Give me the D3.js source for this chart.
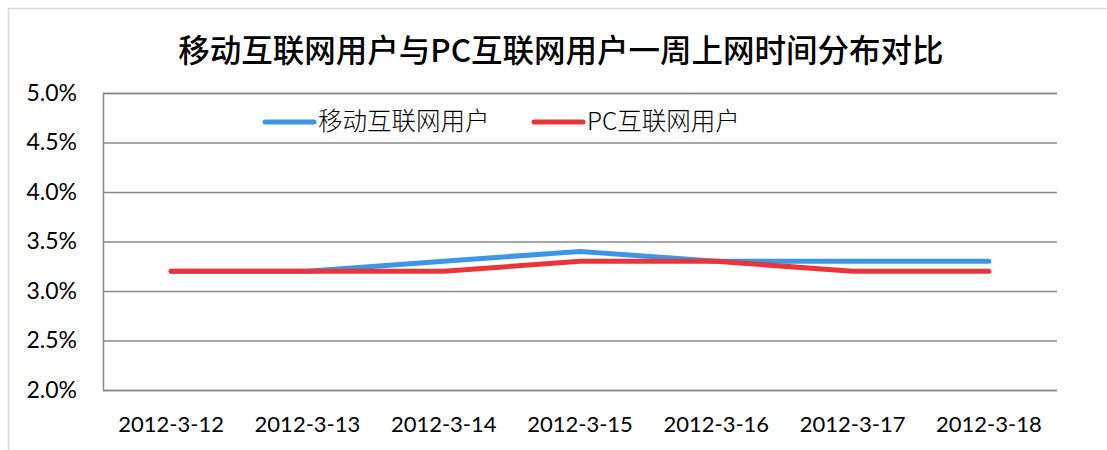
<!DOCTYPE html>
<html><head><meta charset="utf-8">
<script src="https://cdn.jsdelivr.net/npm/d3@7"></script>
<style>
body{margin:0;background:#fff;}
svg{display:block;}
</style></head>
<body>
<svg id="c" width="1107" height="450"></svg>
<script>
const title = "移动互联网用户与PC互联网用户一周上网时间分布对比";
const categories = ["2012-3-12","2012-3-13","2012-3-14","2012-3-15","2012-3-16","2012-3-17","2012-3-18"];
const mobileValues = [3.2, 3.2, 3.3, 3.4, 3.3, 3.3, 3.3];
const pcValues = [3.2, 3.2, 3.2, 3.3, 3.3, 3.2, 3.2];
const seriesNames = ["移动互联网用户", "PC互联网用户"];
const seriesColors = ["#3D95E5", "#EA3438"];
const yTicks = [2.0, 2.5, 3.0, 3.5, 4.0, 4.5, 5.0];

const svg = d3.select("#c");
const m = {left:103, right:1057, top:93, bottom:390};

// outer chart border
svg.append("rect").attr("x",8.5).attr("y",8.5).attr("width",1120).attr("height",460)
  .attr("fill","none").attr("stroke","#d9d9d9").attr("stroke-width",1.5);

const x = d3.scaleBand().domain(categories).range([m.left, m.right]).padding(0);
const y = d3.scaleLinear().domain([2,5]).range([m.bottom, m.top]);

const yAxis = d3.axisLeft(y).tickValues(yTicks).tickSize(-(m.right-m.left)).tickPadding(26)
  .tickFormat(d => d.toFixed(1) + "%");
const gy = svg.append("g").attr("transform",`translate(${m.left},0)`).call(yAxis);
gy.select(".domain").attr("stroke","#888").attr("stroke-width",1.5);
gy.selectAll(".tick line").attr("stroke","#888").attr("stroke-width",1.5);
gy.selectAll(".tick text").attr("font-family","Lato, 'Open Sans', sans-serif").attr("font-size",23).attr("fill","#000");

const xAxis = d3.axisBottom(x).tickSize(0).tickPadding(26);
const gx = svg.append("g").attr("transform",`translate(0,${m.bottom})`).call(xAxis);
gx.select(".domain").remove();
gx.selectAll(".tick text").attr("font-family","Lato, 'Open Sans', sans-serif").attr("font-size",22).attr("fill","#000");

const line = d3.line().x((d,i)=>x(categories[i]) + x.bandwidth()/2).y(d=>y(d));
[mobileValues, pcValues].forEach((vals, k) => {
  svg.append("path").datum(vals).attr("d", line).attr("fill","none")
    .attr("stroke", seriesColors[k]).attr("stroke-width",5)
    .attr("stroke-linecap","round").attr("stroke-linejoin","round");
});

// legend
const legendX = [265, 534];
seriesNames.forEach((name,k) => {
  svg.append("line").attr("x1",legendX[k]).attr("x2",legendX[k]+49).attr("y1",122).attr("y2",122)
    .attr("stroke",seriesColors[k]).attr("stroke-width",5).attr("stroke-linecap","round");
  svg.append("text").attr("x",legendX[k]+53).attr("y",130).text(name)
    .attr("font-family","'Noto Sans CJK SC', sans-serif").attr("font-weight",300)
    .attr("font-size",24.5).attr("fill","#000");
});

svg.append("text").attr("x",561).attr("y",62).attr("text-anchor","middle").text(title)
  .attr("font-family","'Noto Sans CJK SC', sans-serif").attr("font-weight",500)
  .attr("font-size",31.5).attr("fill","#000");
</script>
</body></html>
